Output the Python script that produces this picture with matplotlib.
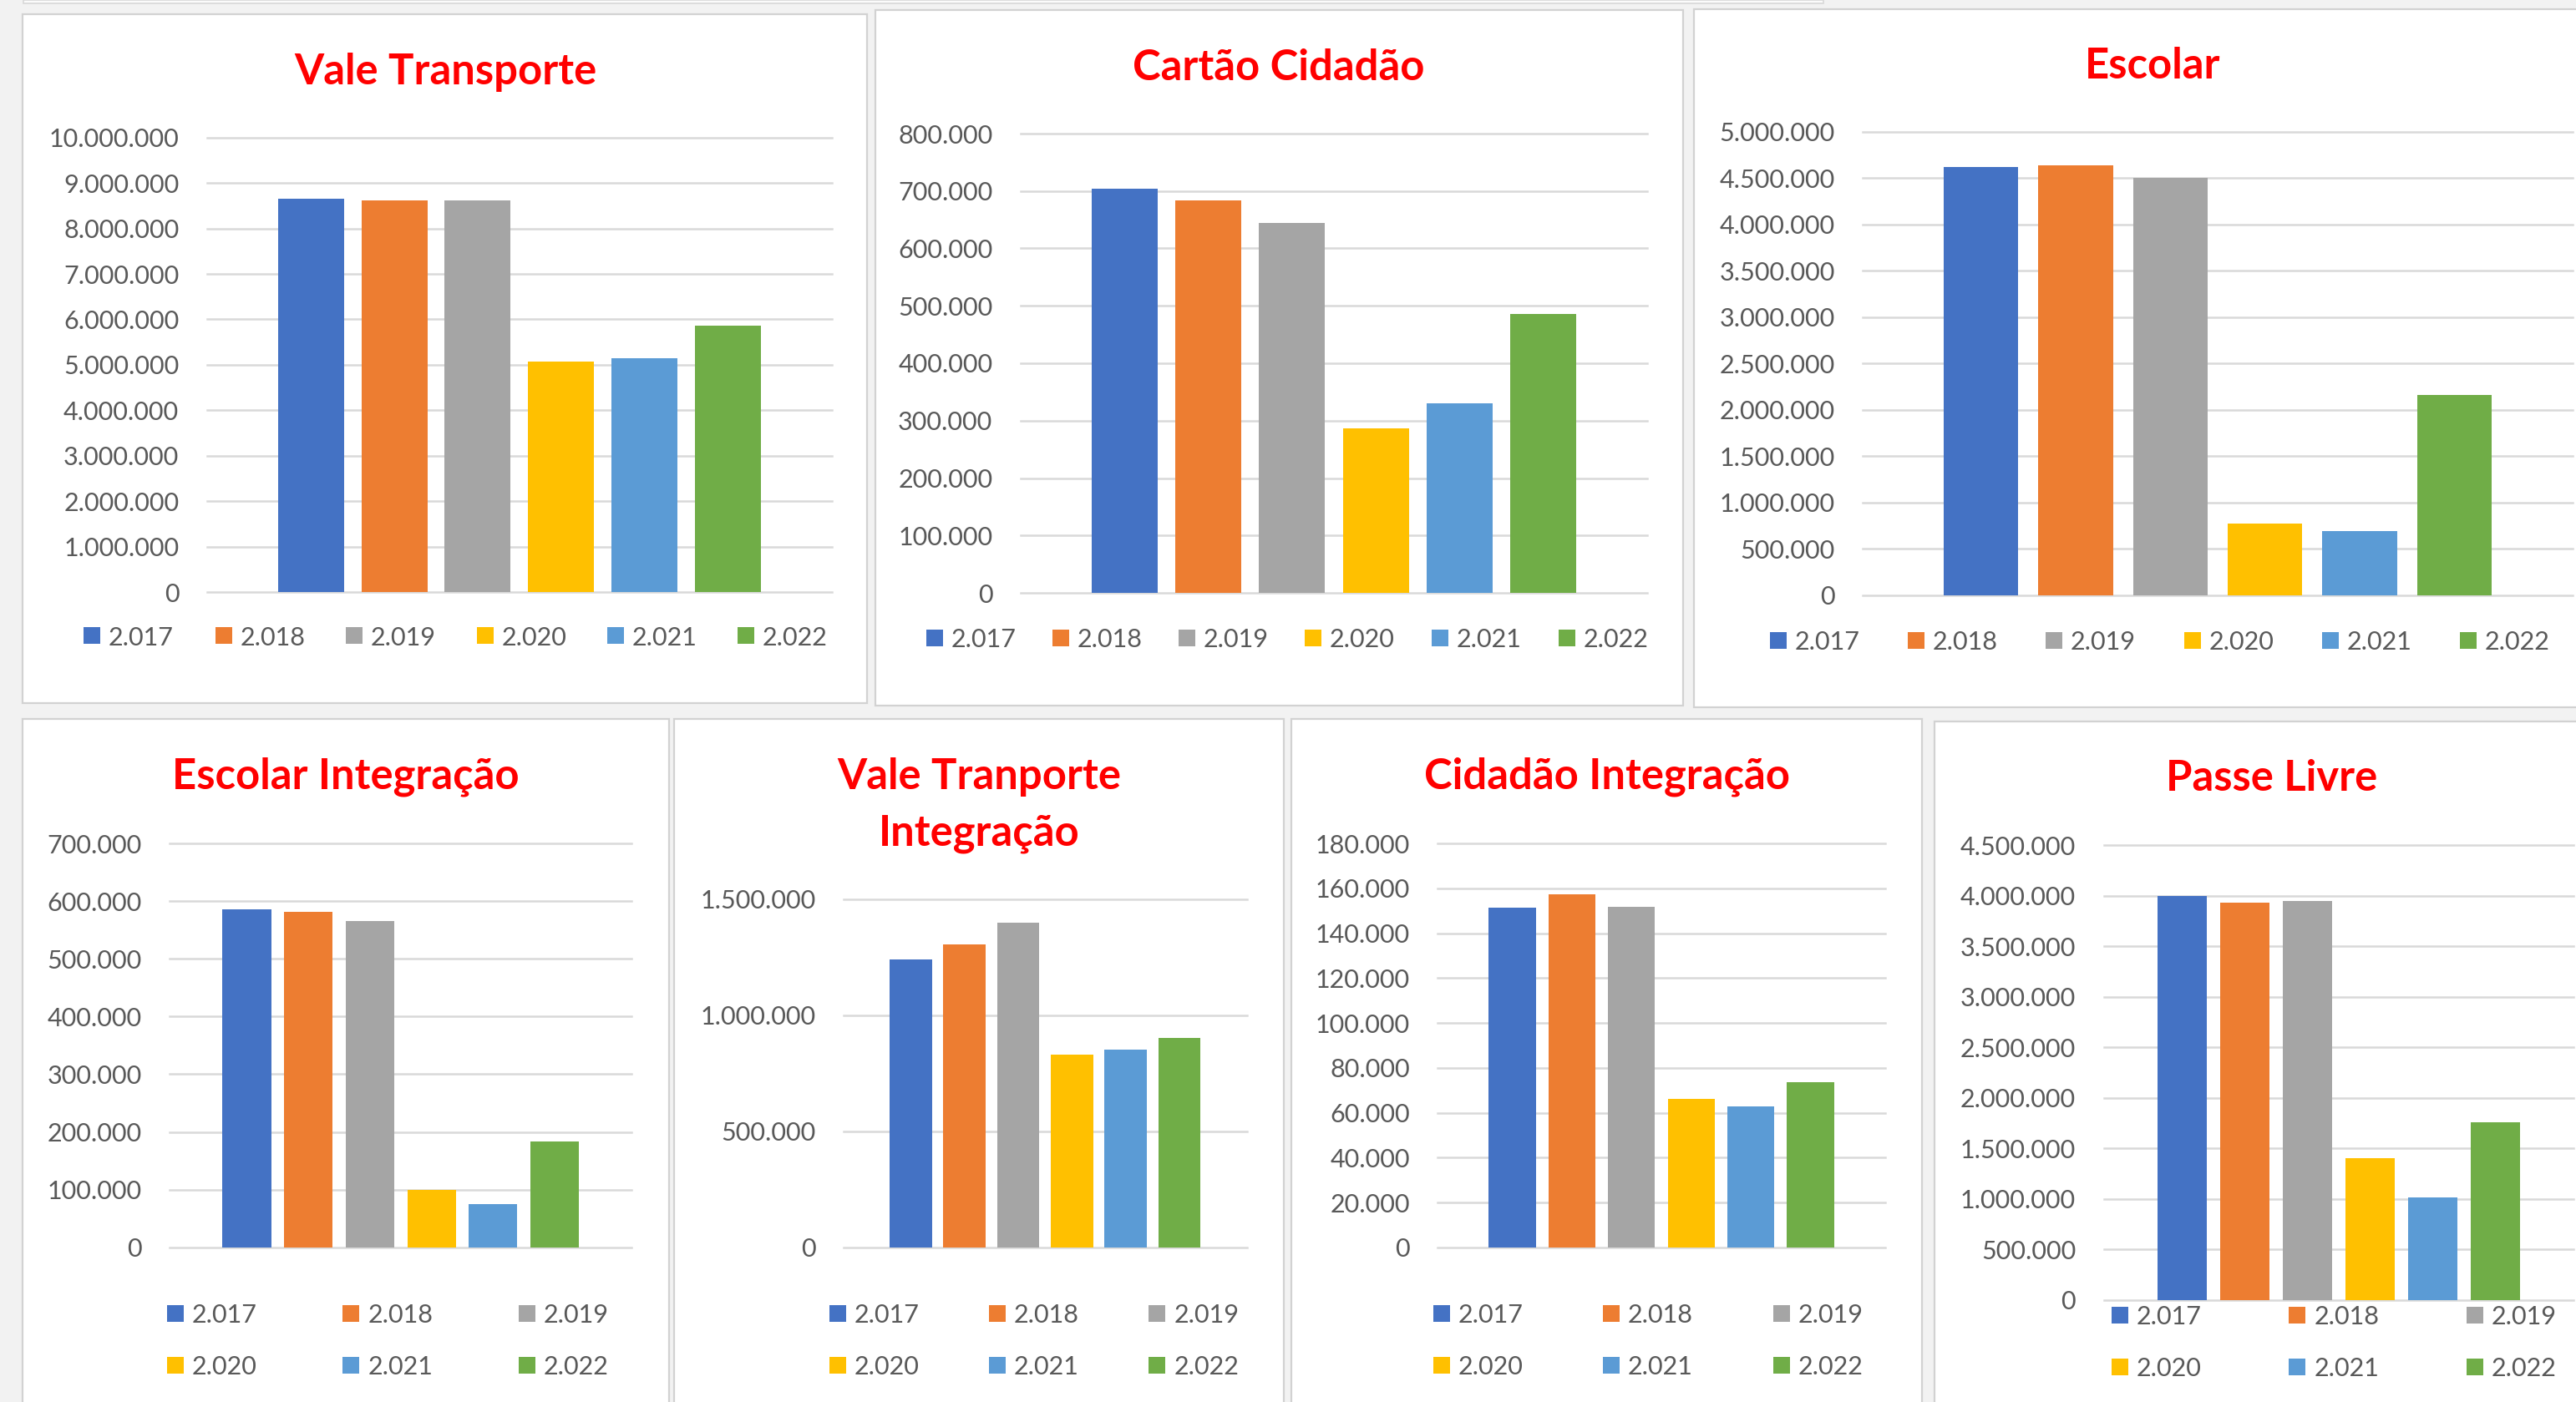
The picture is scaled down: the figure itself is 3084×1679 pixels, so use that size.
import matplotlib
matplotlib.use('Agg')
import matplotlib.pyplot as plt
from matplotlib.patches import Rectangle
import numpy as np

W, H = 3084, 1679
DPI = 100

# ---------------- data ----------------
years = ['2.017', '2.018', '2.019', '2.020', '2.021', '2.022']
colors = ['#4472C4', '#ED7D31', '#A5A5A5', '#FFC000', '#5B9BD5', '#70AD47']

vale_transporte = [8660000, 8610000, 8620000, 5065000, 5146000, 5860000]
cartao_cidadao = [704000, 684000, 645000, 286000, 330000, 486000]
escolar = [4625000, 4644000, 4506000, 776000, 692000, 2164000]
escolar_integracao = [586000, 582000, 565000, 99000, 75000, 183000]
vale_tranporte_integracao = [1240000, 1307000, 1400000, 832000, 853000, 901000]
cidadao_integracao = [151400, 157200, 151600, 66300, 62900, 73500]
passe_livre = [4000000, 3930000, 3952000, 1406000, 1012000, 1755000]

titles = [
    ['Vale Transporte'],
    ['Cartão Cidadão'],
    ['Escolar'],
    ['Escolar Integração'],
    ['Vale Tranporte', 'Integração'],
    ['Cidadão Integração'],
    ['Passe Livre'],
]
series = [vale_transporte, cartao_cidadao, escolar, escolar_integracao,
          vale_tranporte_integracao, cidadao_integracao, passe_livre]
y_max = [10000000, 800000, 5000000, 700000, 1500000, 180000, 4500000]
y_step = [1000000, 100000, 500000, 100000, 500000, 20000, 500000]

# ---------------- layout (pixels, origin top-left) ----------------
layout = [
    dict(border=(27, 17, 1038, 842), plot=(247.6, 164.6, 996, 709.3),
         title_x=533, title_base=[101.5],
         leg_x=[100, 257.5, 414, 571, 727, 883], leg_y=[761.5], ncol=6),
    dict(border=(1048, 12, 2015, 845), plot=(1221.7, 160, 1972.3, 710),
         title_x=1531, title_base=[96.5],
         leg_x=[1109, 1260, 1411, 1562, 1714, 1866], leg_y=[763.6], ncol=6),
    dict(border=(2028, 11, 3110, 847.5), plot=(2230, 158, 3080, 713),
         title_x=2577, title_base=[93.5],
         leg_x=[2119, 2284, 2449, 2615, 2780, 2945], leg_y=[767], ncol=6),
    dict(border=(27, 861, 801, 1710), plot=(203.4, 1010, 756.2, 1493.8),
         title_x=414, title_base=[944.5],
         leg_x=[200, 410.4, 620.8], leg_y=[1572.5, 1634.5], ncol=3),
    dict(border=(807, 861, 1537, 1710), plot=(1010, 1077, 1492.5, 1493.8),
         title_x=1172, title_base=[944.5, 1012.5],
         leg_x=[992.6, 1183.8, 1375.3], leg_y=[1572.5, 1634.5], ncol=3),
    dict(border=(1546, 861, 2301, 1710), plot=(1721, 1010, 2257, 1493.8),
         title_x=1924, title_base=[944.5],
         leg_x=[1715.5, 1919, 2123], leg_y=[1572.5, 1634.5], ncol=3),
    dict(border=(2316, 864, 3110, 1710), plot=(2518.5, 1012.3, 3081, 1556.7),
         title_x=2720, title_base=[947],
         leg_x=[2527.7, 2740.4, 2953], leg_y=[1575, 1636.7], ncol=3),
]

FONT = ['Lato', 'DejaVu Sans']
plt.rcParams['font.family'] = FONT
TXT = '#595959'
GRID = '#d9d9d9'


def fx(x):
    return x / W


def fy(y):
    return 1 - y / H


def fmt(v):
    return f'{int(v):,}'.replace(',', '.')


fig = plt.figure(figsize=(W / DPI, H / DPI), dpi=DPI, facecolor='#f2f2f2')

# thin strip at the very top (part of another window)
fig.patches.append(Rectangle((fx(28), fy(4)), (2183 - 28) / W, 4 / H,
                             transform=fig.transFigure, facecolor='#fbfbfb',
                             edgecolor='#d8d8d8', lw=1.2, zorder=-2))

x = np.arange(len(years))
for i, (vals, lay) in enumerate(zip(series, layout)):
    bx0, by0, bx1, by1 = lay['border']
    fig.patches.append(Rectangle((fx(bx0), fy(by1)), (bx1 - bx0) / W, (by1 - by0) / H,
                                 transform=fig.transFigure, facecolor='white',
                                 edgecolor='#d2d2d2', lw=1.6, zorder=-2))
    px0, py0, px1, py1 = lay['plot']
    ax = fig.add_axes([fx(px0), fy(py1), (px1 - px0) / W, (py1 - py0) / H])
    ax.set_zorder(1)
    ax.set_facecolor('none')
    ax.bar(x, vals, width=0.79, color=colors, zorder=3)
    ax.set_xlim(-1.25, 6.25)
    ax.set_ylim(0, y_max[i])
    ticks = np.arange(0, y_max[i] + y_step[i] / 2, y_step[i])
    ax.set_yticks(ticks)
    ax.set_yticklabels([fmt(t) for t in ticks])
    ax.set_xticks([])
    ax.tick_params(axis='y', length=0, pad=24, labelsize=22, labelcolor=TXT)
    for s in ax.spines.values():
        s.set_visible(False)
    ax.yaxis.grid(True, color=GRID, lw=1.8, zorder=0)
    ax.set_axisbelow(True)
    for gl in ax.get_ygridlines():
        gl.set_clip_on(False)

    # title
    for line, base in zip(titles[i], lay['title_base']):
        fig.text(fx(lay['title_x']), fy(base), line, ha='center', va='baseline',
                 fontsize=36.5, fontweight='bold', color='#ff0000')

    # legend
    ncol = lay['ncol']
    for k, (lab, col) in enumerate(zip(years, colors)):
        r, c = divmod(k, ncol)
        lx = lay['leg_x'][c]
        ly = lay['leg_y'][r]
        fig.patches.append(Rectangle((fx(lx), fy(ly + 10)), 20 / W, 20 / H,
                                     transform=fig.transFigure, facecolor=col,
                                     edgecolor='none', zorder=2))
        fig.text(fx(lx + 30), fy(ly + 11), lab, ha='left', va='baseline',
                 fontsize=22, color=TXT)

fig.savefig('out.png', dpi=DPI, facecolor=fig.get_facecolor())
